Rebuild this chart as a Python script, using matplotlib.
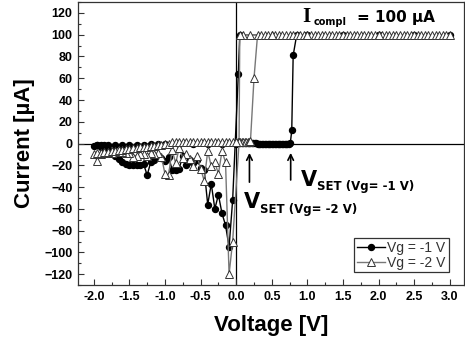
import matplotlib
matplotlib.use("Agg")
import matplotlib.pyplot as plt
from matplotlib.ticker import MultipleLocator

# --- DATA (sweep order) ---
# Vg = -1 V : forward set sweep, compliance, back to 0, reset sweep to -2 V, return
v_g1 = [0.00, 0.02, 0.04, 0.06, 0.08, 0.10, 0.12, 0.14, 0.16, 0.18, 0.20, 0.22, 0.24,
        0.26, 0.28, 0.30, 0.32, 0.34, 0.36, 0.38, 0.40, 0.42, 0.44, 0.46, 0.48, 0.50,
        0.52, 0.54, 0.56, 0.58, 0.60, 0.62, 0.64, 0.66, 0.68, 0.70, 0.72, 0.74, 0.76,
        0.78, 0.80, 0.85, 1.00, 1.50, 2.00, 2.50, 3.00, 2.00, 1.00, 0.05,
        0.03, -0.05, -0.10, -0.15, -0.20, -0.25, -0.30, -0.35, -0.40, -0.45, -0.50,
        -0.55, -0.60, -0.65, -0.70, -0.75, -0.80, -0.85, -0.90, -0.95, -1.00, -1.05,
        -1.10, -1.15, -1.20, -1.25, -1.30, -1.35, -1.40, -1.45, -1.50, -1.55, -1.60,
        -1.65, -1.70, -1.75, -1.80, -1.85, -1.90, -1.95, -2.00,
        -1.95, -1.90, -1.85, -1.80, -1.70, -1.60, -1.50, -1.40, -1.30, -1.20, -1.10,
        -1.00, -0.80, -0.60, -0.40, -0.20, 0.00]
i_g1 = [0.5, 0.5, 0.5, 0.5, 0.5, 0.5, 0.5, 0.5, 0.5, 0.5, 0.5, 0.5, 0.5,
        0.5, 0.5, 0.0, 0.0, 0.0, 0.0, 0.0, 0.0, 0.0, 0.0, 0.0, 0.0, 0.0,
        0.0, 0.0, 0.0, 0.0, 0.0, 0.0, 0.0, 0.0, 0.0, 0.0, 0.0, 0.0, 0.5,
        12, 81, 100, 100, 100, 100, 100, 100, 100, 100, 100,
        64, -52, -95, -75, -64, -47, -60, -37, -56, -24, -22,
        -15, -18, -15, -20, -11, -23, -24, -24, -12, -16, -13,
        -12, -15, -17, -29, -19, -20, -20, -20, -20, -19, -17,
        -14, -11, -7, -5, -4, -3, -1, -2,
        -1, -1, -1, -1, -1, -1, -1, -1, -1, 0, 0,
        0, 0, 0, 0, 0, 0]

# Vg = -2 V
v_g2 = [0.00, 0.02, 0.04, 0.06, 0.08, 0.10, 0.12, 0.14, 0.16, 0.18, 0.20, 0.25,
        0.30, 0.35, 0.40, 0.45, 0.50, 0.55, 0.60, 0.65, 0.70, 0.75, 0.80, 0.85, 0.90,
        0.95, 1.00, 1.05, 1.10, 1.15, 1.20, 1.25, 1.30, 1.35, 1.40, 1.45, 1.50, 1.55,
        1.60, 1.65, 1.70, 1.75, 1.80, 1.85, 1.90, 1.95, 2.00, 2.05, 2.10, 2.15, 2.20,
        2.25, 2.30, 2.35, 2.40, 2.45, 2.50, 2.55, 2.60, 2.65, 2.70, 2.75, 2.80, 2.85,
        2.90, 2.95, 3.00, 2.00, 1.00, 0.50, 0.20, 0.10, 0.05, 0.04,
        -0.05, -0.10, -0.15, -0.20, -0.25, -0.30, -0.35, -0.40, -0.45, -0.50,
        -0.55, -0.60, -0.65, -0.70, -0.75, -0.80, -0.85, -0.90, -0.95, -1.00, -1.05,
        -1.10, -1.15, -1.20, -1.25, -1.30, -1.35, -1.40, -1.45, -1.50, -1.55, -1.60,
        -1.65, -1.70, -1.75, -1.80, -1.85, -1.90, -1.95, -2.00,
        -1.95, -1.90, -1.85, -1.80, -1.75, -1.70, -1.65, -1.60, -1.55, -1.50, -1.45,
        -1.40, -1.35, -1.30, -1.25, -1.20, -1.15, -1.10, -1.05, -1.00, -0.95, -0.90,
        -0.85, -0.80, -0.75, -0.70, -0.65, -0.60, -0.55, -0.50, -0.45, -0.40, -0.35,
        -0.30, -0.25, -0.20, -0.15, -0.10, -0.05, 0.00]
i_g2 = [1, 1, 1, 1, 1, 1, 1, 1, 1, 1, 2, 60,
        100, 100, 100, 100, 100, 100, 100, 100, 100, 100, 100, 100, 100,
        100, 100, 100, 100, 100, 100, 100, 100, 100, 100, 100, 100, 100,
        100, 100, 100, 100, 100, 100, 100, 100, 100, 100, 100, 100, 100,
        100, 100, 100, 100, 100, 100, 100, 100, 100, 100, 100, 100, 100,
        100, 100, 100, 100, 100, 100, 100, 100, 100, 1,
        -90, -120, -17, -7, -28, -17, -21, -7, -34, -23,
        -11, -21, -14, -10, -13, -4, -18, -6, -29, -28, -12,
        -9, -10, -9, -11, -10, -10, -11, -12, -9, -9, -8,
        -8, -8, -9, -9, -9, -10, -16, -10,
        -9, -9, -8, -8, -7, -7, -6, -6, -5, -5, -4,
        -4, -3, -3, -3, -2, -2, -1, -1, 0, 0, 1,
        1, 1, 1, 1, 1, 1, 1, 1, 1, 1, 1,
        1, 1, 1, 1, 1, 1, 1]

labels = ["Vg = -1 V", "Vg = -2 V"]
x_ticks = [-2.0, -1.5, -1.0, -0.5, 0.0, 0.5, 1.0, 1.5, 2.0, 2.5, 3.0]
y_ticks = [-120, -100, -80, -60, -40, -20, 0, 20, 40, 60, 80, 100, 120]

plt.rcParams['font.family'] = ['Liberation Sans', 'DejaVu Sans']

fig = plt.figure(figsize=(4.65, 3.41), dpi=100)
ax = fig.add_axes([0.168, 0.164, 0.83, 0.83])

ax.axhline(0, color='black', lw=0.9, zorder=1)
ax.axvline(0, color='black', lw=0.9, zorder=1)

ax.plot(v_g1, i_g1, color='black', lw=1.0, marker='o', ms=4.3,
        mfc='black', mec='black', label=labels[0], zorder=3)
ax.plot(v_g2, i_g2, color='#777777', lw=1.0, marker='^', ms=5.5,
        mfc='white', mec='#333333', mew=0.7, label=labels[1], zorder=4)

ax.set_xlim(-2.22, 3.2)
ax.set_ylim(-130, 130)
ax.set_xticks(x_ticks)
ax.set_xticklabels([f"{t:.1f}" for t in x_ticks])
ax.set_yticks(y_ticks)
ax.xaxis.set_minor_locator(MultipleLocator(0.25))
ax.yaxis.set_minor_locator(MultipleLocator(10))
ax.tick_params(which='both', direction='in', labelsize=9, width=0.8, colors='#333333',
               labelcolor='black', pad=4)
ax.tick_params(which='major', length=4)
ax.tick_params(which='minor', length=2)
for lab in ax.get_xticklabels() + ax.get_yticklabels():
    lab.set_fontweight('bold')
for sp in ax.spines.values():
    sp.set_color('#333333')
    sp.set_linewidth(0.9)

ax.set_xlabel("Voltage [V]", fontsize=16, fontweight='bold', labelpad=9)
ax.set_ylabel("Current [\u00b5A]", fontsize=16, fontweight='bold', labelpad=7)

# compliance label
ax.text(0.93, 112, "I", fontsize=15, fontweight='bold', family='Liberation Serif')
ax.text(1.09, 109, "compl", fontsize=7, fontweight='bold', family='DejaVu Sans')
ax.text(1.69, 112, "= 100 \u00b5A", fontsize=11, fontweight='bold', family='DejaVu Sans')

# set voltage arrows and labels
ax.annotate('', xy=(0.186, -6), xytext=(0.186, -38),
            arrowprops=dict(arrowstyle='->', color='black', lw=1.2))
ax.annotate('', xy=(0.765, -6), xytext=(0.765, -36),
            arrowprops=dict(arrowstyle='->', color='black', lw=1.2))

ax.text(0.11, -59, "V", fontsize=15, fontweight='bold', family='DejaVu Sans')
ax.text(0.33, -64, "SET (Vg= -2 V)", fontsize=8.5, fontweight='bold', family='DejaVu Sans')
ax.text(0.91, -39, "V", fontsize=15, fontweight='bold', family='DejaVu Sans')
ax.text(1.13, -43, "SET (Vg= -1 V)", fontsize=8.5, fontweight='bold', family='DejaVu Sans')

leg = ax.legend(loc='lower right', bbox_to_anchor=(0.96, 0.045), borderaxespad=0,
                fontsize=10, fancybox=False, edgecolor='#333333', framealpha=1,
                handlelength=2.0, handletextpad=0.2, labelspacing=0.05, borderpad=0.2)
leg.get_frame().set_linewidth(0.9)
for t in leg.get_texts():
    t.set_color('#333333')

fig.savefig("out.png", dpi=100)
